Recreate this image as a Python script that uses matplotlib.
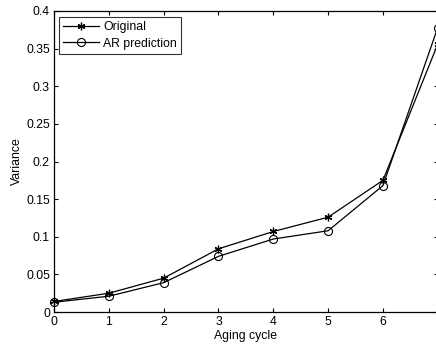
import matplotlib
matplotlib.use("Agg")
import matplotlib.pyplot as plt
from matplotlib.ticker import FormatStrFormatter

plt.rcParams['font.family'] = ['Liberation Sans', 'DejaVu Sans']

cycles = [0, 1, 2, 3, 4, 5, 6, 7]
original = [0.014, 0.025, 0.045, 0.084, 0.107, 0.126, 0.175, 0.356]
ar_prediction = [0.013, 0.021, 0.039, 0.074, 0.097, 0.108, 0.168, 0.378]

fig = plt.figure(figsize=(4.36, 3.48), dpi=100)
ax = fig.add_axes([0.124, 0.1034, 0.88, 0.865])

ax.plot(cycles, original, color="black", lw=0.9, marker=(6, 2, 0), ms=5.5,
        mew=0.9, label="Original", clip_on=False)
ax.plot(cycles, ar_prediction, color="black", lw=0.9, marker="o", ms=5.8,
        mfc="none", mew=0.8, label="AR prediction", clip_on=False)

ax.set_xlim(0, 7)
ax.set_ylim(0, 0.4)
ax.set_xticks(range(0, 7))
ax.set_yticks([0, 0.05, 0.1, 0.15, 0.2, 0.25, 0.3, 0.35, 0.4])
ax.yaxis.set_major_formatter(FormatStrFormatter('%g'))
ax.tick_params(direction="in", top=True, right=True, labelsize=8.8,
               length=3, width=0.8, pad=3)
for s in ax.spines.values():
    s.set_linewidth(0.9)

ax.set_xlabel("Aging cycle", fontsize=8.8, labelpad=1)
ax.set_ylabel("Variance", fontsize=8.8, labelpad=2)

leg = ax.legend(loc="upper left", bbox_to_anchor=(0.013, 0.98), fontsize=8.8,
                frameon=True, fancybox=False, edgecolor="black",
                borderaxespad=0, handlelength=2.9, borderpad=0.35,
                labelspacing=0.35, handletextpad=0.35)
leg.get_frame().set_linewidth(0.8)

fig.savefig("out.png", dpi=100)
